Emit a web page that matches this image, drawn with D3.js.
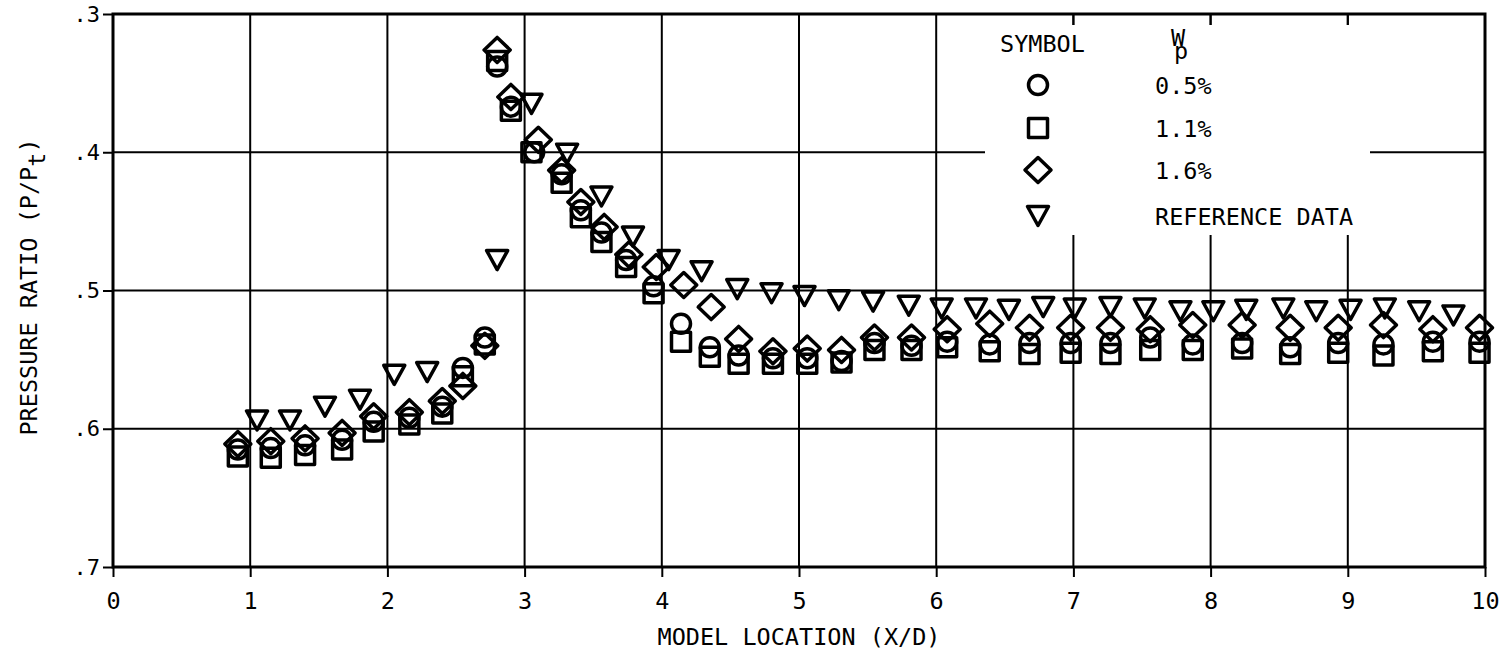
<!DOCTYPE html>
<html><head><meta charset="utf-8">
<script src="https://cdn.jsdelivr.net/npm/d3@7"></script>
<style>
body{margin:0;background:#fff}
svg{display:block}
text{font-family:"DejaVu Sans Mono",monospace;fill:#000}
</style>
</head><body>
<svg id="chart" width="1500" height="655"></svg>
<script>
// ---- data ----
const xTicks = [0,1,2,3,4,5,6,7,8,9,10];
const xTickLabels = ["0","1","2","3","4","5","6","7","8","9","10"];
const yTicks = [0.3,0.4,0.5,0.6,0.7];
const yTickLabels = [".3",".4",".5",".6",".7"];

// W_p = 0.5% (circle)
const xCircle = [0.91,1.15,1.40,1.67,1.90,2.16,2.40,2.55,2.71,2.80,2.90,3.07,3.27,3.41,3.56,3.74,3.94,4.14,4.35,4.56,4.81,5.06,5.31,5.55,5.82,6.08,6.39,6.68,6.98,7.27,7.56,7.87,8.23,8.58,8.93,9.26,9.62,9.96];
const yCircle = [0.615,0.614,0.612,0.608,0.595,0.592,0.584,0.556,0.534,0.338,0.367,0.400,0.416,0.442,0.458,0.478,0.497,0.524,0.541,0.547,0.549,0.549,0.551,0.538,0.540,0.537,0.539,0.538,0.538,0.538,0.534,0.539,0.538,0.541,0.538,0.539,0.537,0.537];
// W_p = 1.1% (square)
const xSquare = [0.91,1.15,1.40,1.67,1.90,2.16,2.40,2.55,2.71,2.80,2.90,3.05,3.27,3.41,3.56,3.74,3.94,4.14,4.35,4.56,4.81,5.06,5.31,5.55,5.82,6.08,6.39,6.68,6.98,7.27,7.56,7.87,8.23,8.58,8.93,9.26,9.62,9.96];
const ySquare = [0.620,0.621,0.619,0.615,0.602,0.597,0.589,0.562,0.539,0.334,0.370,0.400,0.422,0.447,0.465,0.483,0.502,0.537,0.548,0.553,0.553,0.553,0.552,0.543,0.543,0.541,0.544,0.546,0.545,0.546,0.543,0.543,0.542,0.546,0.545,0.547,0.544,0.545];
// W_p = 1.6% (diamond)
const xDiamond = [0.91,1.15,1.40,1.67,1.90,2.16,2.40,2.55,2.71,2.80,2.90,3.10,3.27,3.41,3.58,3.76,3.96,4.16,4.36,4.56,4.81,5.06,5.31,5.55,5.82,6.08,6.39,6.68,6.98,7.27,7.56,7.87,8.23,8.58,8.93,9.26,9.62,9.96];
const yDiamond = [0.611,0.609,0.607,0.603,0.591,0.588,0.580,0.569,0.540,0.326,0.360,0.391,0.413,0.436,0.454,0.474,0.483,0.496,0.512,0.535,0.544,0.542,0.543,0.534,0.534,0.528,0.524,0.527,0.527,0.527,0.528,0.525,0.525,0.527,0.527,0.525,0.528,0.527];
// Reference data (inverted triangle)
const xRef = [1.05,1.29,1.545,1.80,2.05,2.29,2.80,3.05,3.31,3.56,3.79,4.05,4.29,4.55,4.80,5.04,5.29,5.54,5.80,6.04,6.29,6.53,6.78,7.01,7.27,7.52,7.78,8.02,8.26,8.53,8.77,9.02,9.27,9.52,9.77];
const yRef = [0.594,0.594,0.584,0.579,0.561,0.559,0.478,0.365,0.401,0.432,0.461,0.478,0.486,0.499,0.502,0.504,0.507,0.508,0.511,0.513,0.513,0.514,0.512,0.513,0.512,0.513,0.515,0.515,0.514,0.513,0.515,0.514,0.513,0.515,0.518];

const legendLabels = ["0.5%","1.1%","1.6%","REFERENCE DATA"];
const legendSymbols = ["circle","square","diamond","triangle"];

// ---- chart ----
const svg = d3.select("#chart");
const pL = 113, pR = 1485, pT = 14, pB = 567;
const x = d3.scaleLinear().domain([0,10]).range([pL,pR]);
const y = d3.scaleLinear().domain([0.3,0.7]).range([pT,pB]);

const FS = 23.5;

// grid
const g = svg.append("g");
g.selectAll("line.vg").data(xTicks.slice(1,-1)).enter().append("line")
  .attr("x1",d=>x(d)).attr("x2",d=>x(d)).attr("y1",pT).attr("y2",pB)
  .attr("stroke","#000").attr("stroke-width",2);
g.selectAll("line.hg").data(yTicks.slice(1,-1)).enter().append("line")
  .attr("x1",pL).attr("x2",pR).attr("y1",d=>y(d)).attr("y2",d=>y(d))
  .attr("stroke","#000").attr("stroke-width",2);

// legend blank area
const legX0 = 985, legX1 = 1370, legY0 = 25, legY1 = 235;
svg.append("rect").attr("x",legX0).attr("y",legY0).attr("width",legX1-legX0).attr("height",legY1-legY0).attr("fill","#fff");
// top ticks inside legend area
svg.selectAll("line.tt").data(xTicks.filter(d=>x(d)>legX0 && x(d)<legX1)).enter().append("line")
  .attr("x1",d=>x(d)).attr("x2",d=>x(d)).attr("y1",pT).attr("y2",pT+11)
  .attr("stroke","#000").attr("stroke-width",2);

// frame
svg.append("rect").attr("x",pL).attr("y",pT).attr("width",pR-pL).attr("height",pB-pT)
  .attr("fill","none").attr("stroke","#000").attr("stroke-width",3);

// axes
const xAxis = d3.axisBottom(x).tickValues(xTicks).tickFormat((d,i)=>xTickLabels[i]).tickSize(10).tickPadding(15).tickSizeOuter(0);
const gx = svg.append("g").attr("transform",`translate(0,${pB})`).call(xAxis);
gx.select(".domain").remove();
gx.selectAll("line").attr("stroke","#000").attr("stroke-width",2);
gx.selectAll("text").attr("font-size",FS).attr("font-family","DejaVu Sans Mono");

const yAxis = d3.axisLeft(y).tickValues(yTicks).tickFormat((d,i)=>yTickLabels[i]).tickSize(10).tickPadding(3).tickSizeOuter(0);
const gy = svg.append("g").attr("transform",`translate(${pL},0)`).call(yAxis);
gy.select(".domain").remove();
gy.selectAll("line").attr("stroke","#000").attr("stroke-width",2);
gy.selectAll("text").attr("font-size",22).attr("font-family","DejaVu Sans Mono");

// axis titles
svg.append("text").attr("x",(pL+pR)/2).attr("y",645).attr("text-anchor","middle")
  .attr("font-size",FS).text("MODEL LOCATION (X/D)");
const yt = svg.append("text").attr("transform","translate(37,287) rotate(-90)").attr("text-anchor","middle")
  .attr("font-size",FS);
yt.append("tspan").text("PRESSURE RATIO (P/P");
yt.append("tspan").attr("dy",8).text("t");
yt.append("tspan").attr("dy",-8).text(")");

// marker paths
function sym(type){
  if(type==="circle"){const r=9.5;return `M${-r},0A${r},${r} 0 1,0 ${r},0A${r},${r} 0 1,0 ${-r},0Z`;}
  if(type==="square"){const s=9.5;return `M${-s},${-s}H${s}V${s}H${-s}Z`;}
  if(type==="diamond"){const w=13,h=12.5;return `M0,${-h}L${w},0L0,${h}L${-w},0Z`;}
  const w=10.5,h=9.5;return `M${-w},${-h}H${w}L0,${h}Z`;
}
function drawSeries(xs,ys,type){
  svg.append("g").selectAll("path").data(xs.map((v,i)=>[v,ys[i]])).enter().append("path")
    .attr("transform",d=>`translate(${x(d[0])},${y(d[1])})`)
    .attr("d",sym(type)).attr("fill","none").attr("stroke","#000").attr("stroke-width",3.5)
    .attr("stroke-linejoin","round");
}
drawSeries(xSquare,ySquare,"square");
drawSeries(xCircle,yCircle,"circle");
drawSeries(xDiamond,yDiamond,"diamond");
drawSeries(xRef,yRef,"triangle");

// legend
svg.append("text").attr("x",1000).attr("y",52).attr("font-size",FS).text("SYMBOL");
const wp = svg.append("text").attr("x",1171).attr("y",46).attr("font-size",FS);
wp.append("tspan").text("W");
wp.append("tspan").attr("x",1174).attr("dy",13).text("p");
const legY = [85,128,170,216];
legendSymbols.forEach((s,i)=>{
  svg.append("path").attr("transform",`translate(1038,${legY[i]})`).attr("d",sym(s))
    .attr("fill","none").attr("stroke","#000").attr("stroke-width",3.5).attr("stroke-linejoin","round");
  svg.append("text").attr("x",1155).attr("y",legY[i]+9).attr("font-size",FS).text(legendLabels[i]);
});
</script>
</body></html>
